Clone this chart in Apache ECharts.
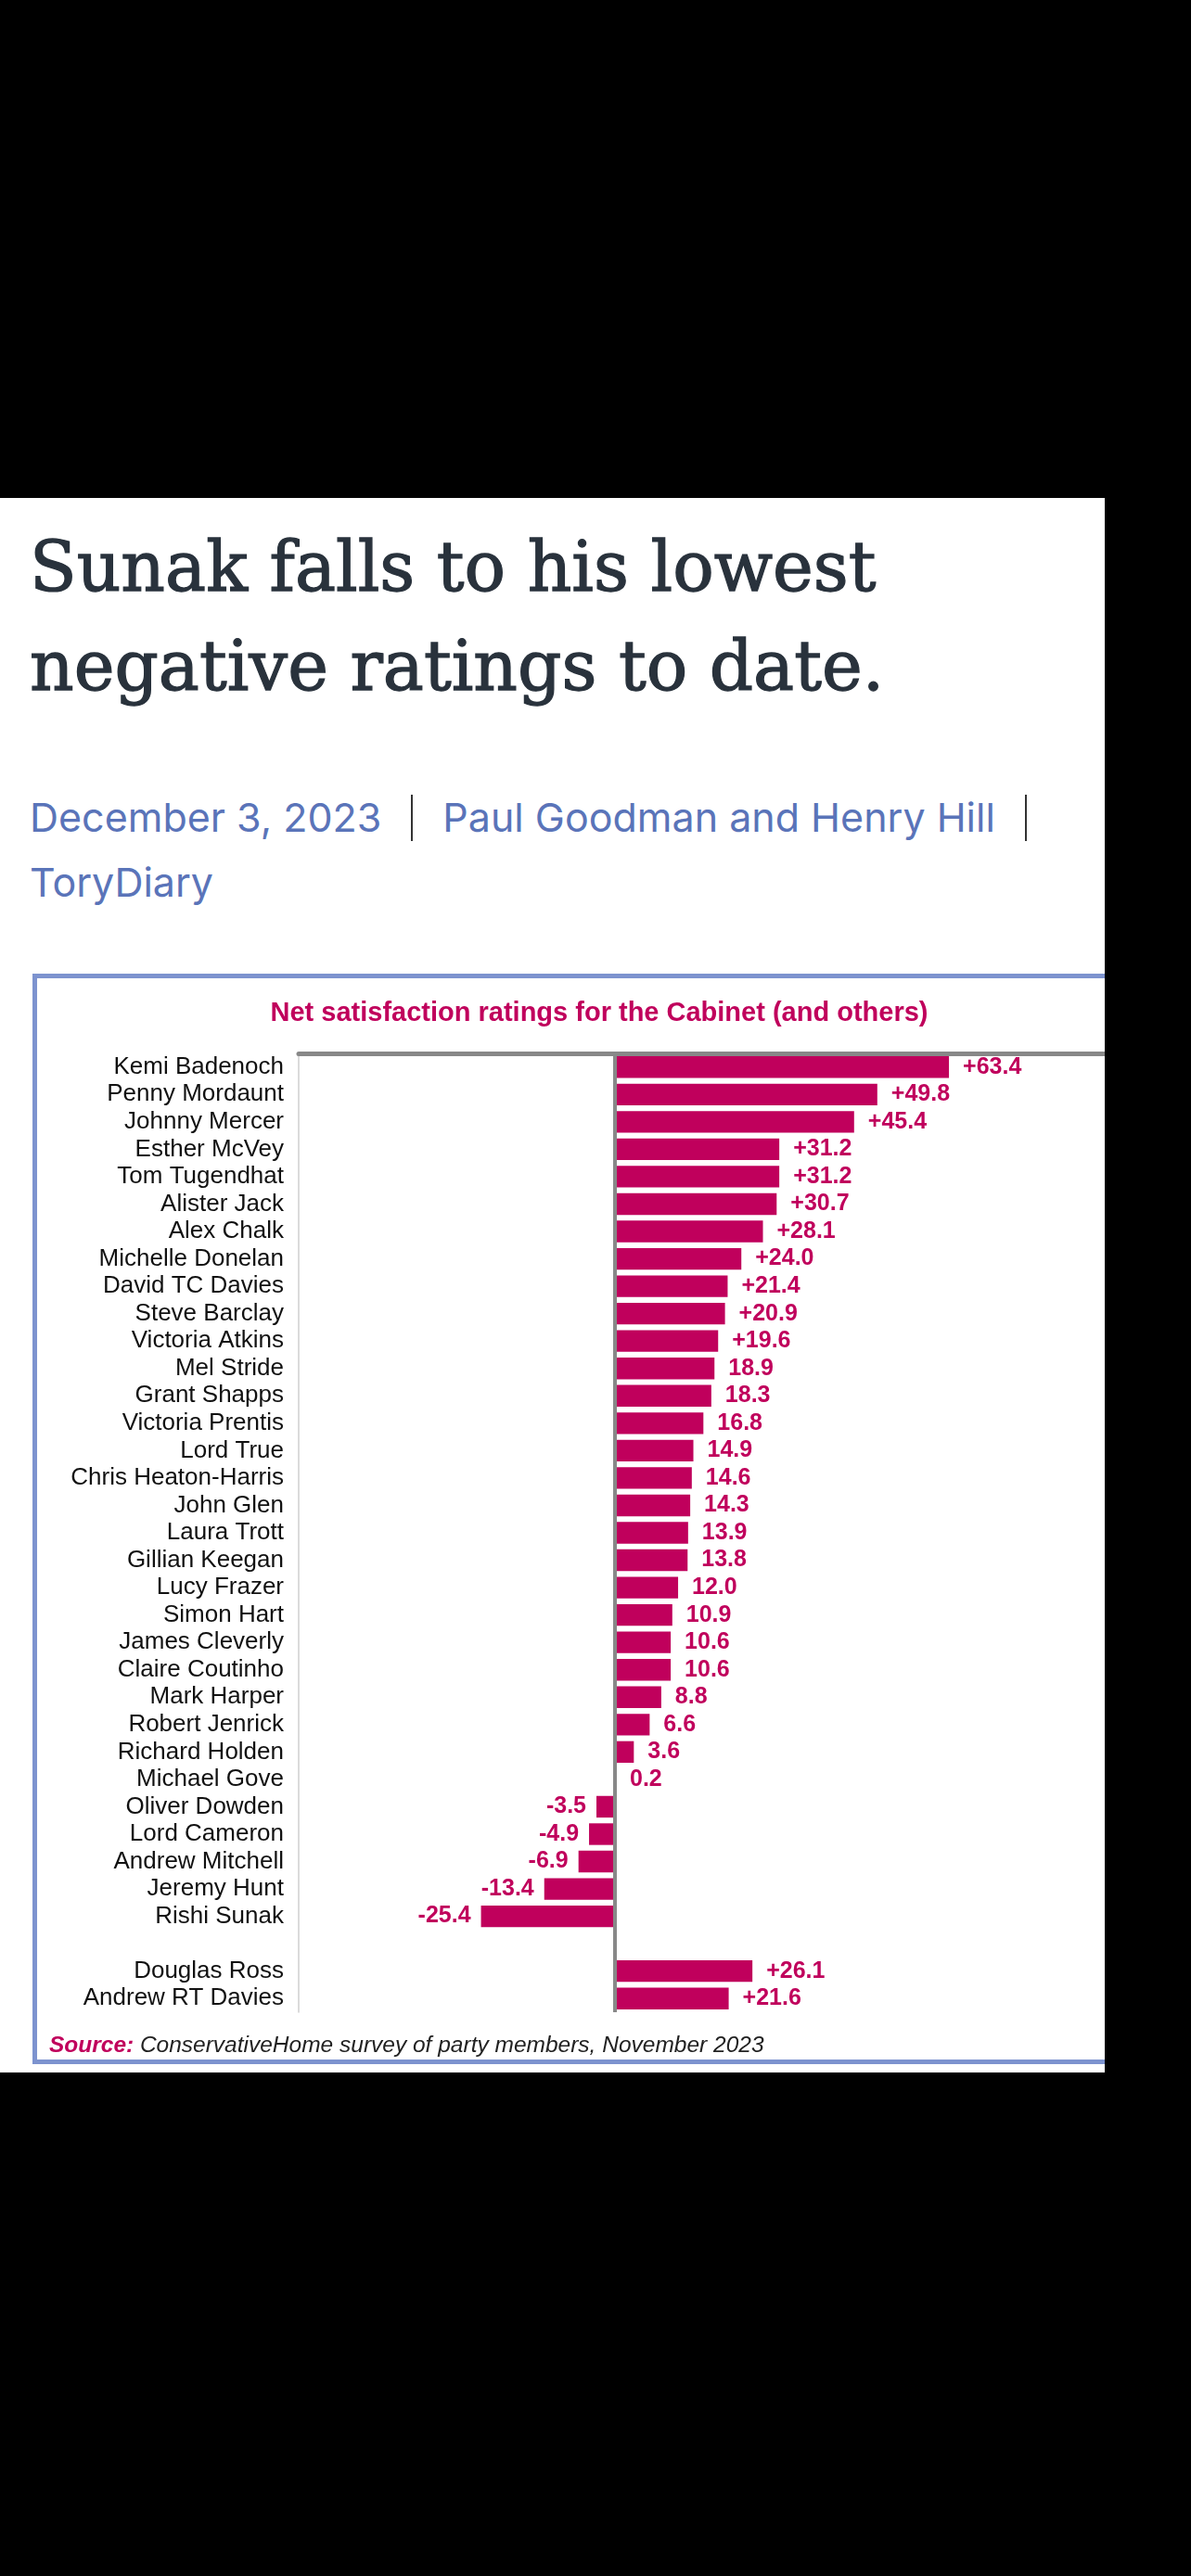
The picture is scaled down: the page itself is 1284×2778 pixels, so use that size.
<!DOCTYPE html>
<html>
<head>
<meta charset="utf-8">
<title>Net satisfaction ratings for the Cabinet</title>
<script src="https://cdn.jsdelivr.net/npm/echarts@6.0.0/dist/echarts.min.js"></script>
<style>
  html, body { margin: 0; padding: 0; background: #000; }
  body { width: 1284px; height: 2778px; position: relative; overflow: hidden; }
  #page { position: absolute; left: 0; top: 537px; width: 1191px; height: 1698px; background: #fff; overflow: hidden; }
  #headline { position: absolute; left: 32px; top: 21px; margin: 0; font-family: "DejaVu Serif", serif; font-weight: normal;
    font-size: 74px; line-height: 107px; color: #29323c; white-space: nowrap; -webkit-text-stroke: 1.3px #29323c; }
  #meta { position: absolute; left: 32px; top: 309px; font-family: Inter, Roboto, sans-serif; font-size: 43px; line-height: 70px;
    color: #5a74b9; white-space: nowrap; }
  #meta .sep { display: inline-block; width: 2px; height: 50px; background: #333; vertical-align: -10px; margin: 0 32px; }
  #box { position: absolute; left: 35px; top: 513px; width: 1300px; height: 1176px; border: 5px solid #7d93cf; box-sizing: border-box; background: #fff; }
  #main { position: absolute; left: 0; top: 0; width: 1290px; height: 1166px; }
</style>
</head>
<body>
<div id="page">
  <h1 id="headline">Sunak falls to his lowest<br>negative ratings to date.</h1>
  <div id="meta">December 3, 2023<span class="sep"></span>Paul Goodman and Henry Hill<span class="sep"></span><br>ToryDiary</div>
  <div id="box"><div id="main"></div></div>
</div>
<script>
// data, top to bottom ('' is the gap row)
var names = ['Kemi Badenoch', 'Penny Mordaunt', 'Johnny Mercer', 'Esther McVey', 'Tom Tugendhat',
  'Alister Jack', 'Alex Chalk', 'Michelle Donelan', 'David TC Davies', 'Steve Barclay',
  'Victoria Atkins', 'Mel Stride', 'Grant Shapps', 'Victoria Prentis', 'Lord True',
  'Chris Heaton-Harris', 'John Glen', 'Laura Trott', 'Gillian Keegan', 'Lucy Frazer',
  'Simon Hart', 'James Cleverly', 'Claire Coutinho', 'Mark Harper', 'Robert Jenrick',
  'Richard Holden', 'Michael Gove', 'Oliver Dowden', 'Lord Cameron', 'Andrew Mitchell',
  'Jeremy Hunt', 'Rishi Sunak', '', 'Douglas Ross', 'Andrew RT Davies'];
var ratings = [63.4, 49.8, 45.4, 31.2, 31.2, 30.7, 28.1, 24.0, 21.4, 20.9,
  19.6, 18.9, 18.3, 16.8, 14.9, 14.6, 14.3, 13.9, 13.8, 12.0,
  10.9, 10.6, 10.6, 8.8, 6.6, 3.6, 0.2, -3.5, -4.9, -6.9,
  -13.4, -25.4, null, 26.1, 21.6];
var ratingLabels = ['+63.4', '+49.8', '+45.4', '+31.2', '+31.2', '+30.7', '+28.1', '+24.0', '+21.4', '+20.9',
  '+19.6', '18.9', '18.3', '16.8', '14.9', '14.6', '14.3', '13.9', '13.8', '12.0',
  '10.9', '10.6', '10.6', '8.8', '6.6', '3.6', '0.2', '-3.5', '-4.9', '-6.9',
  '-13.4', '-25.4', '', '+26.1', '+21.6'];
var xMin = -60;
var xMax = 100;
var chartTitle = 'Net satisfaction ratings for the Cabinet (and others)';
var sourceNote = 'ConservativeHome survey of party members, November 2023';

var crimson = '#c0005c';
var font = 'Arial, "Liberation Sans", sans-serif';

// negative bars get their label on the left
var barData = ratings.map(function (v) {
  if (v === null) return '-';
  return { value: v, label: v < 0 ? { position: 'left', distance: 11 } : { position: 'right', distance: 15 } };
});

var myChart = echarts.init(document.getElementById('main'), null, { renderer: 'canvas' });
var option = {
  backgroundColor: '#fff',
  animation: false,
  grid: { left: 282, top: 81, width: 909, height: 1034, outerBoundsMode: 'none' },
  xAxis: {
    type: 'value', position: 'top', min: xMin, max: xMax,
    axisLine: { show: true, onZero: false, lineStyle: { color: '#888', width: 5 } },
    axisTick: { show: false }, axisLabel: { show: false }, splitLine: { show: false }
  },
  yAxis: {
    type: 'category', inverse: true, data: names,
    axisLine: { show: true, onZero: false, lineStyle: { color: '#cfcfcf', width: 1.5 } },
    axisTick: { show: false },
    axisLabel: { color: '#111', fontSize: 26, fontFamily: font, margin: 16, interval: 0 },
    splitLine: { show: false }
  },
  graphic: [
    { type: 'text', x: 606, y: 38, style: { text: chartTitle, fill: crimson, font: 'bold 29px ' + font,
      textAlign: 'center', textVerticalAlign: 'middle' } },
    { type: 'text', x: 13, y: 1151, style: { text: '{a|Source:}  {b|' + sourceNote + '}', textVerticalAlign: 'middle',
      rich: { a: { fill: crimson, fontWeight: 'bold', fontStyle: 'italic', fontSize: 24.5, fontFamily: font },
              b: { fill: '#222', fontStyle: 'italic', fontSize: 24.5, fontFamily: font } } } }
  ],
  series: [{
    type: 'bar', data: barData, barCategoryGap: '21%',
    itemStyle: { color: crimson },
    label: {
      show: true, color: crimson, fontWeight: 'bold', fontSize: 25, fontFamily: font,
      formatter: function (p) { return ratingLabels[p.dataIndex]; }
    },
    markLine: {
      silent: true, symbol: ['none', 'none'], label: { show: false },
      lineStyle: { color: '#888', width: 4, type: 'solid' },
      data: [{ xAxis: 0 }]
    }
  }]
};
myChart.setOption(option);
</script>
</body>
</html>
